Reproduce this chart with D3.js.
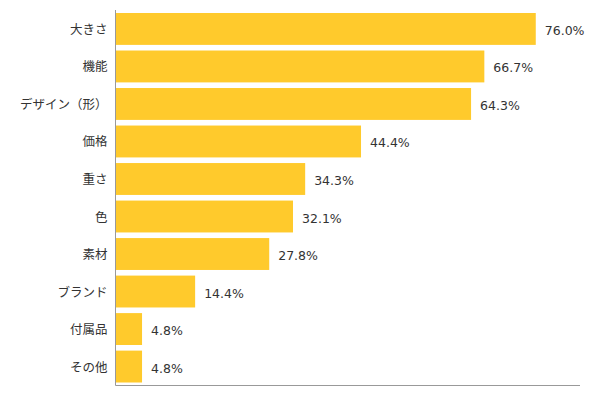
<!DOCTYPE html>
<html><head><meta charset="utf-8">
<script src="https://cdn.jsdelivr.net/npm/d3@7"></script>
<style>body{margin:0;background:#fff}svg{display:block}</style>
</head><body><svg id="c" width="600" height="397"></svg>
<script>
const categories = ["大きさ","機能","デザイン（形）","価格","重さ","色","素材","ブランド","付属品","その他"];
const values = [76.0,66.7,64.3,44.4,34.3,32.1,27.8,14.4,4.8,4.8];
const labels = ["76.0%","66.7%","64.3%","44.4%","34.3%","32.1%","27.8%","14.4%","4.8%","4.8%"];

(function(){
const svg = d3.select("#c");
const mLeft = 115.5, mRight = 580, mTop = 10, mBottom = 385.5;
const x = d3.scaleLinear().domain([0, 84]).range([mLeft, mRight]);
const y = d3.scaleBand().domain(categories).range([mTop, mBottom]).paddingInner(0.15).paddingOuter(0.08);
const font = "'Noto Sans CJK JP', sans-serif";
const numFont = "'DejaVu Sans', sans-serif";

svg.selectAll("rect.bar").data(values).enter().append("rect")
  .attr("x", mLeft + 0.5)
  .attr("y", (d,i) => y(categories[i]))
  .attr("width", d => x(d) - mLeft - 0.5)
  .attr("height", y.bandwidth())
  .attr("fill", "#FFCA2C");

svg.selectAll("text.val").data(values).enter().append("text")
  .attr("x", d => x(d) + 9)
  .attr("y", (d,i) => y(categories[i]) + y.bandwidth()/2 + 1.5)
  .attr("dy", "0.36em")
  .attr("font-family", numFont).attr("font-size", 12.5).attr("fill", "#333")
  .text((d,i) => labels[i]);

const ya = d3.axisLeft(y).tickSize(0).tickPadding(8);
const g = svg.append("g").attr("transform", `translate(${mLeft},1)`).call(ya);
g.select(".domain").remove();
g.selectAll("text").attr("font-family", font).attr("font-size", 12.5).attr("fill", "#333");

svg.append("line").attr("x1", mLeft).attr("x2", mLeft).attr("y1", mTop).attr("y2", mBottom).attr("stroke", "#999");
svg.append("line").attr("x1", mLeft).attr("x2", mRight).attr("y1", mBottom).attr("y2", mBottom).attr("stroke", "#999");
})();
</script></body></html>
